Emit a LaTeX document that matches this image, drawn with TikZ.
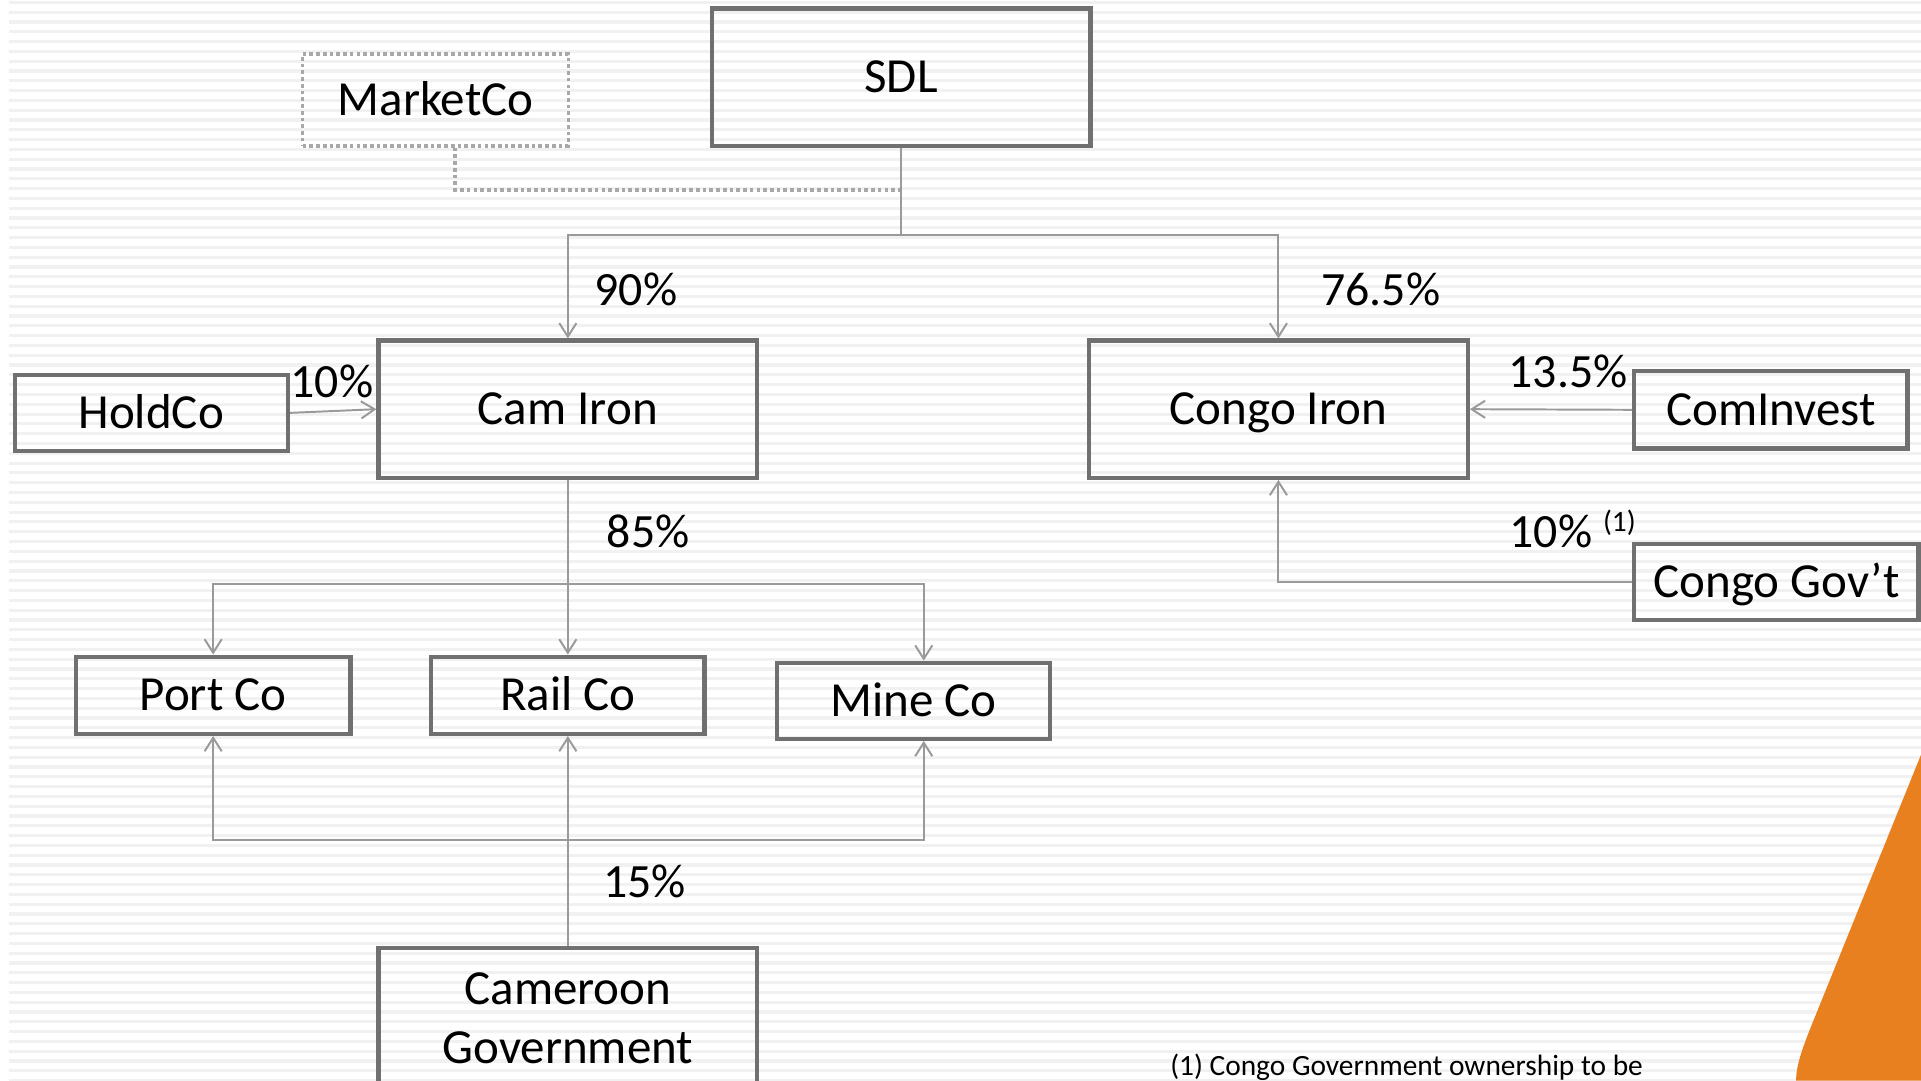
\documentclass[tikz,border=0pt]{standalone}
\usepackage{fontspec}
\setmainfont{Carlito}
\usetikzlibrary{arrows.meta}
\definecolor{boxgray}{HTML}{707070}
\definecolor{linegray}{HTML}{9A9A9A}
\definecolor{dotgray}{HTML}{A8A8A8}
\definecolor{stripe}{HTML}{F1F1F1}
\definecolor{orangeblade}{HTML}{E8801F}
\tikzset{
  company/.style={draw=boxgray, line width=3.5pt, rectangle, inner sep=0pt, font=\fontsize{40}{48}\selectfont, text=black, text height=25.6pt, text depth=0pt},
  ghost/.style={draw=dotgray, line width=3pt, dash pattern=on 3pt off 2.5pt, rectangle, inner sep=0pt, font=\fontsize{40}{48}\selectfont, text height=25.6pt, text depth=0pt},
  pct/.style={inner sep=0pt, font=\fontsize{39}{46}\selectfont, text=black, text height=25pt, text depth=0pt},
  conn/.style={draw=linegray, line width=1.6pt},
  own/.style={conn, -{Straight Barb[length=11pt, width=14pt, line width=1.6pt]}},
  dotconn/.style={draw=dotgray, line width=3pt, dash pattern=on 3pt off 2.5pt}
}
\begin{document}
\begin{tikzpicture}[x=1pt, y=-1pt]
\useasboundingbox (0,0) rectangle (1568,882);
\clip (0,0) rectangle (1568,882);
\fill[white] (0,0) rectangle (1568,882);
\foreach \yy in {2,10,...,882} {\draw[stripe, line width=2.6pt] (7,\yy) -- (1568,\yy);}
\fill[orangeblade] (1568,616) -- (1479,836) .. controls (1471,856) and (1466,870) .. (1466,882) -- (1568,882) -- cycle;

% nodes
\node[company, minimum width=309, minimum height=112] (sdl) at (735.5,63) {SDL};
\node[ghost, minimum width=217, minimum height=75] (marketco) at (355.5,81.5) {MarketCo};
\node[company, minimum width=309, minimum height=112] (camiron) at (463.5,334) {Cam Iron};
\node[company, minimum width=309, minimum height=112] (congoiron) at (1043.5,334) {Congo Iron};
\node[company, minimum width=223, minimum height=62] (holdco) at (123.5,337) {HoldCo};
\node[company, minimum width=223, minimum height=63] (cominvest) at (1445.5,334.5) {ComInvest};
\node[company, minimum width=232, minimum height=62] (congogov) at (1450,475) {Congo Gov’t};
\node[company, minimum width=224, minimum height=63] (portco) at (174,567.5) {Port Co};
\node[company, minimum width=223, minimum height=63] (railco) at (463.5,567.5) {Rail Co};
\node[company, minimum width=223, minimum height=62] (mineco) at (745.5,572) {Mine Co};
\node[company, minimum width=309, minimum height=150, anchor=north] (camgov) at (463.5,772) {};
\node[inner sep=0pt, align=center, font=\fontsize{40}{48}\selectfont] (camgovtxt) at (463.5,831) {Cameroon\\Government};

% junction coordinates
\coordinate (jmk) at (735.5,155);
\coordinate (jsdl) at (735.5,192);
\coordinate (jcam) at (463.5,477);
\coordinate (jgov) at (463.5,686);

% connectors
\draw[dotconn] ([xshift=16]marketco.south) |- (jmk);
\draw[conn] (sdl.south) -- (jsdl);
\draw[own] (jsdl) -| (camiron.north);
\draw[own] (jsdl) -| (congoiron.north);
\draw[own] (holdco.east) -- (camiron.west);
\draw[own] (cominvest.west) -- (congoiron.east);
\draw[own] (congogov.west) -| (congoiron.south);
\draw[own] (camiron.south) -- (railco.north);
\draw[own] (jcam) -| (portco.north);
\draw[own] (jcam) -| ([xshift=8.5]mineco.north);
\draw[own] (camgov.north) -- (railco.south);
\draw[own] (jgov) -| (portco.south);
\draw[own] (jgov) -| ([xshift=8.5]mineco.south);

% labels
\node[pct] (l90) at (519,237) {90\%};
\node[pct] (l765) at (1127,237) {76.5\%};
\node[pct] (l10a) at (271,312) {10\%};
\node[pct] (l135) at (1280,304) {13.5\%};
\node[pct] (l85) at (529,434) {85\%};
\node[pct] (l15) at (526,720) {15\%};
\node[pct, anchor=west] (l10b) at (1232,434) {10\% \raisebox{13pt}{\fontsize{24}{28}\selectfont(1)}};
\node[inner sep=0pt, anchor=west, font=\fontsize{24}{28}\selectfont] (foot) at (955,871) {(1) Congo Government ownership to be};
\end{tikzpicture}
\end{document}
